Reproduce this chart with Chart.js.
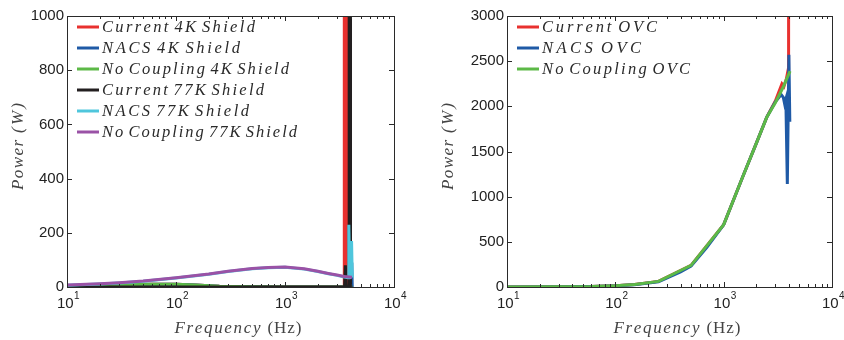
<!DOCTYPE html>
<html>
<head>
<meta charset="utf-8">
<script src="https://cdn.jsdelivr.net/npm/chart.js@4.4.1/dist/chart.umd.min.js"></script>
<style>
  body { margin: 0; background: #fff; }
  .panel { position: absolute; top: 0; height: 340px; }
</style>
</head>
<body>
<div class="panel" style="left:0;width:420px"><canvas id="shields" width="420" height="340"></canvas></div>
<div class="panel" style="left:420px;width:424px"><canvas id="ovc" width="424" height="340"></canvas></div>
<script>
// ---- left panel: 4K and 77K shields ----
const current4KFreq = [10, 30, 60, 100, 150, 250, 500, 1000, 3500, 3500, 3720, 3720, 4150];
const current4KPower = [4, 8, 10, 10, 7, 3, 1, 0, 0, 3000, 3000, 0, 0];

const nacs4KFreq = [10, 30, 60, 100, 150, 250, 500, 1000, 3800, 3950, 4000, 4100, 4140];
const nacs4KPower = [4, 8, 10, 10, 7, 3, 1, 0, 0, 15, 5, 90, 0];

const noCoupling4KFreq = [10, 30, 60, 100, 150, 250, 500, 1000, 4150];
const noCoupling4KPower = [4, 8, 10, 10, 7, 3, 1, 0, 0];

const current77KFreq = [10, 1000, 3520, 3580, 3640, 3880, 3880, 3990, 3990, 4150];
const current77KPower = [0, 0, 0, 80, 0, 0, 3000, 3000, 0, 0];

const nacs77KFreq = [10, 20, 30, 50, 100, 200, 300, 500, 700, 1000, 1500, 2000, 2500, 3000, 3500, 3800, 3850, 3930, 4000, 4080, 4140];
const nacs77KPower = [6, 11, 15, 21, 33, 47, 57, 67, 71, 73, 66, 57, 49, 43, 37, 34, 230, 30, 60, 170, 35];

const noCoupling77KFreq = [10, 20, 30, 50, 100, 200, 300, 500, 700, 1000, 1500, 2000, 2500, 3000, 3500, 4120];
const noCoupling77KPower = [7, 12, 16, 22, 34, 48, 58, 68, 72, 74, 67, 58, 50, 44, 39, 36];

// ---- right panel: OVC ----
const currentOVCFreq = [10, 30, 60, 100, 150, 250, 500, 1000, 1500, 2000, 2500, 3000, 3450, 3600, 3800, 3960, 3975];
const currentOVCPower = [0, 2, 6, 15, 28, 62, 240, 690, 1220, 1590, 1880, 2060, 2250, 2220, 2310, 2420, 4000];

const nacsOVCFreq = [10, 30, 60, 100, 150, 250, 400, 500, 700, 1000, 1500, 2000, 2500, 3000, 3400, 3550, 3650, 3750, 3870, 4000, 4080];
const nacsOVCPower = [0, 2, 5, 13, 25, 58, 168, 232, 440, 688, 1220, 1590, 1880, 2050, 2130, 2100, 2030, 2080, 1140, 2570, 1830];

const noCouplingOVCFreq = [10, 30, 60, 100, 150, 250, 500, 1000, 1500, 2000, 2500, 3000, 3500, 4100];
const noCouplingOVCPower = [0, 2, 6, 15, 28, 62, 240, 690, 1220, 1590, 1880, 2040, 2200, 2390];

// axis ticks
const decades = [10, 100, 1000, 10000];
const decadeExponents = ['1', '2', '3', '4'];

const RED = '#e8312f', BLUE = '#1f5aa6', GREEN = '#5cb947',
      BLACK = '#231f20', CYAN = '#4fc6dc', PURPLE = '#9a52a6';

const SERIF = '"Liberation Serif", "DejaVu Serif", serif';
const SANS = '"Liberation Sans", Arial, sans-serif';

function pts(xs, ys) {
    return xs.map((x, i) => ({ x: x, y: ys[i] }));
}

function series(label, xs, ys, color, order) {
    return {
        label: label,
        data: pts(xs, ys),
        borderColor: color,
        backgroundColor: color,
        borderWidth: 3,
        pointRadius: 0,
        tension: 0,
        order: order
    };
}

/**
 * Draw text with spaced-out letters, like LaTeX math italic
 */
function spacedText(ctx, text, x, y, width) {
    const chars = [...text];
    const widths = chars.map(c => c === ' ' ? ctx.measureText(c).width * 0.3 : ctx.measureText(c).width);
    const natural = widths.reduce((a, b) => a + b, 0);
    const gap = chars.length > 1 ? (width - natural) / (chars.length - 1) : 0;
    let cx = x;
    chars.forEach((c, i) => {
        if (c !== ' ') ctx.fillText(c, cx, y);
        cx += widths[i] + gap;
    });
}

// frame, ticks, tick labels, titles and legend drawn like the MATLAB figure
const matlabFrame = {
    id: 'matlabFrame',
    afterDatasetsDraw(chart, args, opts) {
        const ctx = chart.ctx;
        const area = chart.chartArea;
        const xs = chart.scales.x;
        const ys = chart.scales.y;
        ctx.save();

        // box
        ctx.strokeStyle = '#2a2a2a';
        ctx.lineWidth = 1;
        ctx.strokeRect(Math.round(area.left) + 0.5, Math.round(area.top) + 0.5,
            Math.round(area.right - area.left), Math.round(area.bottom - area.top));

        // inward ticks
        ctx.beginPath();
        ys.ticks.forEach(t => {
            const py = Math.round(ys.getPixelForValue(t.value)) + 0.5;
            ctx.moveTo(area.left, py); ctx.lineTo(area.left + 5, py);
            ctx.moveTo(area.right, py); ctx.lineTo(area.right - 5, py);
        });
        decades.forEach(d => {
            for (let m = 1; m <= 9; m++) {
                const v = d * m;
                if (v > 10000) continue;
                const px = Math.round(xs.getPixelForValue(v)) + 0.5;
                const len = m === 1 ? 5 : 3;
                ctx.moveTo(px, area.bottom); ctx.lineTo(px, area.bottom - len);
                ctx.moveTo(px, area.top); ctx.lineTo(px, area.top + len);
            }
        });
        ctx.stroke();

        // x tick labels 10^n
        ctx.fillStyle = '#222';
        ctx.textBaseline = 'alphabetic';
        ctx.textAlign = 'left';
        decades.forEach((d, i) => {
            const px = xs.getPixelForValue(d);
            ctx.font = '15px ' + SANS;
            const wb = ctx.measureText('10').width;
            ctx.font = '10px ' + SANS;
            const we = ctx.measureText(decadeExponents[i]).width;
            const start = px - (wb + we) / 2 + 1;
            ctx.font = '15px ' + SANS;
            ctx.fillText('10', start, 308);
            ctx.font = '10px ' + SANS;
            ctx.fillText(decadeExponents[i], start + wb + 0.5, 299);
        });

        // x title
        const cx = (area.left + area.right) / 2;
        ctx.fillStyle = '#444';
        ctx.font = 'italic 17px ' + SERIF;
        spacedText(ctx, 'Frequency', cx - 56, 333, 86);
        ctx.font = '17px ' + SERIF;
        spacedText(ctx, '(Hz)', cx + 37, 333, 34);

        // y title (rotated)
        ctx.save();
        ctx.translate(opts.yTitleX, 190);
        ctx.rotate(-Math.PI / 2);
        ctx.font = 'italic 17px ' + SERIF;
        spacedText(ctx, 'Power', 0, 0, 50);
        spacedText(ctx, '(W)', 57, 0, 30);
        ctx.restore();

        // legend
        ctx.textBaseline = 'middle';
        ctx.font = 'italic 16.5px ' + SERIF;
        opts.legend.forEach((item, i) => {
            const y = 27 + i * 21;
            const lx = area.left + 10;
            ctx.strokeStyle = item.color;
            ctx.lineWidth = 3;
            ctx.beginPath();
            ctx.moveTo(lx, y); ctx.lineTo(lx + 22, y);
            ctx.stroke();
            ctx.fillStyle = '#2a2a2a';
            spacedText(ctx, item.text, lx + 25, y + 1, item.width);
        });

        ctx.restore();
    }
};

function makeChart(id, datasets, yMax, yStep, yWidth, padRight, frameOpts) {
    return new Chart(document.getElementById(id), {
        type: 'line',
        data: { datasets: datasets },
        options: {
            responsive: false,
            animation: false,
            events: [],
            layout: { padding: { top: 16, right: padRight, bottom: 0, left: 0 } },
            plugins: {
                legend: { display: false },
                tooltip: { enabled: false },
                matlabFrame: frameOpts
            },
            scales: {
                x: {
                    type: 'logarithmic',
                    min: 10,
                    max: 10000,
                    grid: { display: false, drawTicks: false },
                    border: { display: false },
                    ticks: { display: false },
                    afterFit: s => { s.height = 53; }
                },
                y: {
                    min: 0,
                    max: yMax,
                    grid: { display: false, drawTicks: false },
                    border: { display: false },
                    ticks: {
                        stepSize: yStep,
                        padding: 3,
                        color: '#222',
                        font: { family: SANS, size: 15 },
                        callback: v => String(v)
                    },
                    afterFit: s => { s.width = yWidth; }
                }
            }
        },
        plugins: [matlabFrame]
    });
}

makeChart('shields', [
    series('Current 4K Shield', current4KFreq, current4KPower, RED, 5),
    series('NACS 4K Shield', nacs4KFreq, nacs4KPower, BLUE, 4),
    series('No Coupling 4K Shield', noCoupling4KFreq, noCoupling4KPower, GREEN, 3),
    series('Current 77K Shield', current77KFreq, current77KPower, BLACK, 2),
    series('NACS 77K Shield', nacs77KFreq, nacs77KPower, CYAN, 1),
    series('No Coupling 77K Shield', noCoupling77KFreq, noCoupling77KPower, PURPLE, 0)
], 1000, 200, 67, 26, {
    yTitleX: 23,
    legend: [
        { text: 'Current 4K Shield', color: RED, width: 153 },
        { text: 'NACS 4K Shield', color: BLUE, width: 138 },
        { text: 'No Coupling 4K Shield', color: GREEN, width: 187 },
        { text: 'Current 77K Shield', color: BLACK, width: 162 },
        { text: 'NACS 77K Shield', color: CYAN, width: 147 },
        { text: 'No Coupling 77K Shield', color: PURPLE, width: 195 }
    ]
});

makeChart('ovc', [
    series('Current OVC', currentOVCFreq, currentOVCPower, RED, 2),
    series('NACS OVC', nacsOVCFreq, nacsOVCPower, BLUE, 1),
    series('No Coupling OVC', noCouplingOVCFreq, noCouplingOVCPower, GREEN, 0)
], 3000, 500, 87, 12, {
    yTitleX: 33,
    legend: [
        { text: 'Current OVC', color: RED, width: 115 },
        { text: 'NACS OVC', color: BLUE, width: 99 },
        { text: 'No Coupling OVC', color: GREEN, width: 148 }
    ]
});
</script>
</body>
</html>
